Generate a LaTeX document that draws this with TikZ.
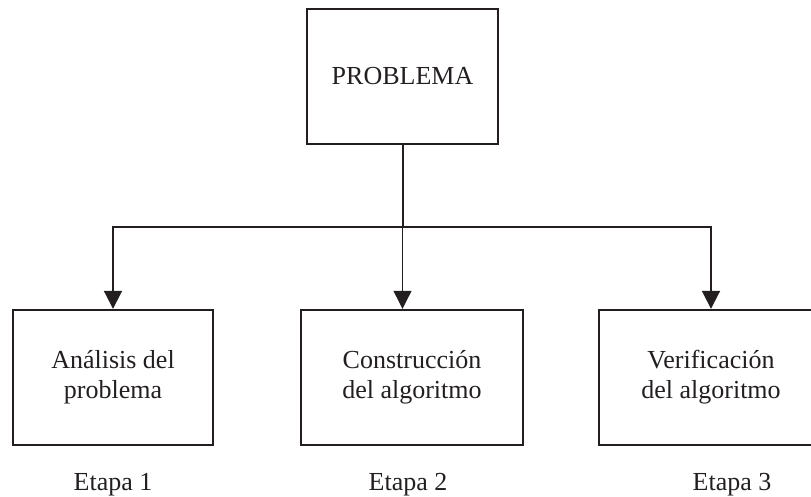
\documentclass[tikz,border=0pt]{standalone}
\usepackage{fontspec}
\setmainfont{Liberation Serif}
\usetikzlibrary{arrows.meta,positioning}
\definecolor{ink}{RGB}{35,31,32}
\begin{document}
\begin{tikzpicture}[
  x=1pt, y=1pt,
  block/.style={rectangle, draw=ink, line width=1.2pt, minimum height=67.5pt, inner sep=0pt, align=center, text=ink},
  etapa/.style={text=ink, inner sep=0pt, text height=9pt, text depth=3pt},
  link/.style={draw=ink, line width=1pt},
  tip/.style={-{Triangle[length=9pt,width=9pt]}},
  font=\fontsize{13pt}{15pt}\selectfont
]
\useasboundingbox (0,0) rectangle (405.5,-248.5);
\node[block, minimum width=95.5pt] (problema) at (201.25,-38.25) {PROBLEMA};
\node[block, minimum width=111pt, below of=problema, node distance=150.5pt, xshift=4.75pt] (construccion) {Construcción\\del algoritmo};
\node[block, minimum width=100pt, left of=construccion, node distance=149.5pt] (analisis) {Análisis del\\problema};
\node[block, minimum width=112pt, right of=construccion, node distance=149.5pt] (verificacion) {Verificación\\del algoritmo};

\node[etapa, below of=analisis, node distance=53.75pt] (etapa1) {Etapa 1};
\node[etapa, below of=construccion, node distance=53.75pt, xshift=-2pt] (etapa2) {Etapa 2};
\node[etapa, below of=verificacion, node distance=53.75pt, xshift=10.5pt] (etapa3) {Etapa 3};

\coordinate[below of=problema, node distance=75.25pt] (junction);

\draw[link] (problema) -- (junction);
\draw[link,tip] (junction) -| (analisis);
\draw[link,tip] (junction) -| (verificacion);
\draw[link,tip,line width=0.6pt] (junction) -- (junction |- construccion.north);
\end{tikzpicture}
\end{document}
